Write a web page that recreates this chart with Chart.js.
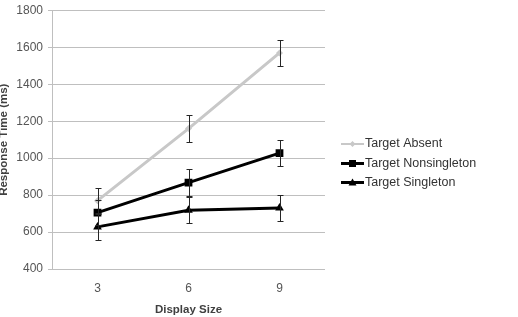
<!DOCTYPE html>
<html>
<head>
<meta charset="utf-8">
<script src="https://cdn.jsdelivr.net/npm/chart.js@4.4.1/dist/chart.umd.min.js"></script>
<style>
  html, body { margin: 0; padding: 0; background: #fff; }
  #wrap { width: 518px; height: 317px; }
</style>
</head>
<body>
<div id="wrap"><canvas id="rtChart" width="518" height="317"></canvas></div>
<script>
/* Response time by display size */
var displaySizes = ["3", "6", "9"];
var absentRT = [770, 1160, 1570];
var absentErr = [68, 72, 72];
var nonsingletonRT = [705, 868, 1027];
var nonsingletonErr = [68, 72, 72];
var singletonRT = [628, 718, 730];
var singletonErr = [70, 70, 72];
var yTicks = [400, 600, 800, 1000, 1200, 1400, 1600, 1800];

var FONT = "'Liberation Sans', Arial, sans-serif";
var GRID = "#bfbfbf";

/* legend swatch: line with marker in the middle */
function drawSwatch(g, x, y, color, shape) {
  g.save();
  g.strokeStyle = color; g.fillStyle = color;
  g.lineWidth = shape === "diamond" ? 2 : 3;
  g.beginPath(); g.moveTo(x, y); g.lineTo(x + 23, y); g.stroke();
  var cx = x + 11.5;
  g.beginPath();
  if (shape === "rect") { g.fillRect(cx - 3.5, y - 3.5, 7, 7); }
  else if (shape === "triangle") { g.moveTo(cx, y - 4); g.lineTo(cx + 4, y + 3); g.lineTo(cx - 4, y + 3); g.closePath(); g.fill(); }
  else { g.moveTo(cx, y - 3); g.lineTo(cx + 3, y); g.lineTo(cx, y + 3); g.lineTo(cx - 3, y); g.closePath(); g.fill(); }
  g.restore();
}

var sideLegend = {
  id: "sideLegend",
  afterDraw: function (chart) {
    var ctx = chart.ctx;
    var left = chart.chartArea.right + 16;
    var rowY = [144, 163.5, 182.5];
    ctx.save();
    ctx.font = "12.5px " + FONT;
    ctx.fillStyle = "#333";
    ctx.textBaseline = "middle";
    chart.data.datasets.forEach(function (ds, i) {
      drawSwatch(ctx, left, rowY[i], ds.borderColor, ds.legendShape);
      ctx.fillText(ds.label, left + 24, rowY[i]);
    });
    ctx.restore();
  }
};

var errorBars = {
  id: "errorBars",
  afterDatasetsDraw: function (chart) {
    var ctx = chart.ctx, y = chart.scales.y;
    ctx.save();
    ctx.strokeStyle = "#262626";
    ctx.lineWidth = 1;
    chart.data.datasets.forEach(function (ds, i) {
      var meta = chart.getDatasetMeta(i);
      meta.data.forEach(function (pt, j) {
        var v = ds.data[j], e = ds.errors[j];
        var top = Math.round(y.getPixelForValue(v + e)) + 0.5;
        var bot = Math.round(y.getPixelForValue(v - e)) + 0.5;
        var x = Math.round(pt.x) + 0.5;
        ctx.beginPath();
        ctx.moveTo(x, top); ctx.lineTo(x, bot);
        ctx.moveTo(x - 3, top); ctx.lineTo(x + 3, top);
        ctx.moveTo(x - 3, bot); ctx.lineTo(x + 3, bot);
        ctx.stroke();
      });
    });
    ctx.restore();
  }
};

new Chart(document.getElementById("rtChart"), {
  type: "line",
  data: {
    labels: displaySizes,
    datasets: [
      { label: "Target Absent", data: absentRT, errors: absentErr, borderColor: "#c8c8c8", backgroundColor: "#c8c8c8", borderWidth: 3, pointStyle: "rectRot", pointRadius: 3.5, pointBorderWidth: 0, legendShape: "diamond" },
      { label: "Target Nonsingleton", data: nonsingletonRT, errors: nonsingletonErr, borderColor: "#000", backgroundColor: "#000", borderWidth: 3, pointStyle: "rect", pointRadius: 5.5, pointBorderWidth: 0, legendShape: "rect" },
      { label: "Target Singleton", data: singletonRT, errors: singletonErr, borderColor: "#000", backgroundColor: "#000", borderWidth: 3, pointStyle: "triangle", pointRadius: 5, pointBorderWidth: 0, legendShape: "triangle" }
    ]
  },
  options: {
    responsive: false,
    animation: false,
    layout: { padding: { top: 0, right: 193, bottom: 0, left: -3 } },
    plugins: {
      tooltip: { enabled: false },
      legend: { display: false }
    },
    scales: {
      x: {
        offset: true,
        grid: { display: false },
        border: { display: false },
        ticks: { color: "#555", font: { family: FONT, size: 12 }, padding: 4 },
        title: { display: true, text: "Display Size", color: "#404040", font: { family: FONT, size: 11.5, weight: "bold" }, padding: { top: 8, bottom: 0 } },
        afterFit: function (s) { s.height = 48; }
      },
      y: {
        min: 400,
        max: 1800,
        afterBuildTicks: function (s) { s.ticks = yTicks.map(function (v) { return { value: v }; }); },
        grid: { color: GRID, tickLength: 4 },
        border: { color: GRID },
        ticks: { color: "#555", font: { family: FONT, size: 12, lineHeight: 0.9 }, padding: 5, callback: function (v) { return String(v); } },
        title: { display: true, text: "Response Time (ms)", color: "#404040", font: { family: FONT, size: 11.5, weight: "bold" }, padding: 0 },
        afterFit: function (s) { s.width = 55; }
      }
    }
  },
  plugins: [errorBars, sideLegend]
});
</script>
</body>
</html>
